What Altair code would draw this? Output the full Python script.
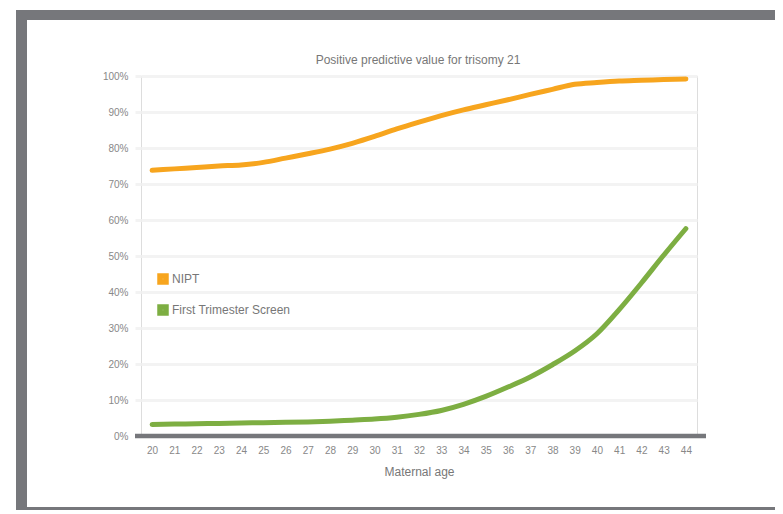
import altair as alt
import pandas as pd

ages = list(range(20, 45))
nipt = [73.8, 74.2, 74.6, 75.0, 75.3, 76.0, 77.2, 78.4, 79.7, 81.3, 83.2, 85.3, 87.2,
        89.0, 90.6, 92.0, 93.4, 94.9, 96.3, 97.7, 98.2, 98.6, 98.8, 99.0, 99.2]
fts = [3.2, 3.3, 3.4, 3.5, 3.6, 3.7, 3.8, 3.9, 4.1, 4.4, 4.7, 5.2, 6.0,
       7.1, 8.8, 11.0, 13.6, 16.4, 19.8, 23.6, 28.4, 35.1, 42.5, 50.2, 57.6]
series_names = ["NIPT", "First Trimester Screen"]
series_colors = ["#F7A51E", "#7DAE42"]
y_ticks = [i / 10 for i in range(11)]
chart_title = "Positive predictive value for trisomy 21"

rows = []
for a, v in zip(ages, nipt):
    rows.append({"age": a, "ppv": v / 100, "series": series_names[0]})
for a, v in zip(ages, fts):
    rows.append({"age": a, "ppv": v / 100, "series": series_names[1]})
df = pd.DataFrame(rows)

FONT = "Liberation Sans"
FRAME = "#76777B"
GRID = "#F3F3F3"

lines = alt.Chart(df).mark_line(strokeWidth=5, strokeCap="round", interpolate="monotone").encode(
    x=alt.X("age:Q", scale=alt.Scale(domain=[19.5, 44.5], nice=False, zero=False),
            axis=alt.Axis(values=ages, title="Maternal age", grid=False, domain=False, ticks=False,
                          labelPadding=9, labelFontSize=10, labelColor="#888888", labelFont=FONT,
                          titleFont=FONT, titleFontSize=12, titleColor="#777777",
                          titleFontWeight="normal", titlePadding=11, labelFlush=False)),
    y=alt.Y("ppv:Q", scale=alt.Scale(domain=[0, 1], nice=False),
            axis=alt.Axis(values=y_ticks, format=".0%", title=None, domain=False,
                          grid=True, gridColor=GRID, gridWidth=3,
                          tickColor=GRID, tickWidth=3, tickSize=6,
                          labelPadding=7, labelFontSize=10, labelColor="#888888", labelFont=FONT)),
    color=alt.Color("series:N", sort=series_names,
                    scale=alt.Scale(domain=series_names, range=series_colors),
                    legend=alt.Legend(title=None, orient="none", legendX=16, legendY=197,
                                      symbolType="square", symbolSize=36, symbolStrokeWidth=5.5,
                                      labelFont=FONT, labelFontSize=12, labelColor="#777777",
                                      labelOffset=3, rowPadding=3, padding=0)),
)

one = pd.DataFrame({"k": [0]})
title_df = pd.DataFrame({"t": [chart_title]})

title_mark = alt.Chart(title_df).mark_text(font=FONT, fontSize=12, color="#777777",
                                           align="center", baseline="middle").encode(
    text="t:N", x=alt.value(277), y=alt.value(-16))

top_bar = alt.Chart(one).mark_rect(color=FRAME).encode(
    x=alt.value(-125), x2=alt.value(650), y=alt.value(-66), y2=alt.value(-56))
left_bar = alt.Chart(one).mark_rect(color=FRAME).encode(
    x=alt.value(-125), x2=alt.value(-114), y=alt.value(-66), y2=alt.value(438))
bottom_bar = alt.Chart(one).mark_rect(color=FRAME).encode(
    x=alt.value(-125), x2=alt.value(650), y=alt.value(431), y2=alt.value(438))
axis_bar = alt.Chart(one).mark_rule(color=FRAME, strokeWidth=4.5).encode(
    x=alt.value(-6), x2=alt.value(565), y=alt.value(360))

chart = alt.layer(lines, axis_bar, title_mark, top_bar, left_bar, bottom_bar).properties(
    width=556, height=360,
    autosize=alt.AutoSizeParams(type="none"),
    padding={"left": 133, "top": 68, "right": 78, "bottom": 74},
).configure_view(stroke=GRID, strokeWidth=3).configure(background="white")

chart.save("out.html", embed_options={"renderer": "svg", "actions": False})
